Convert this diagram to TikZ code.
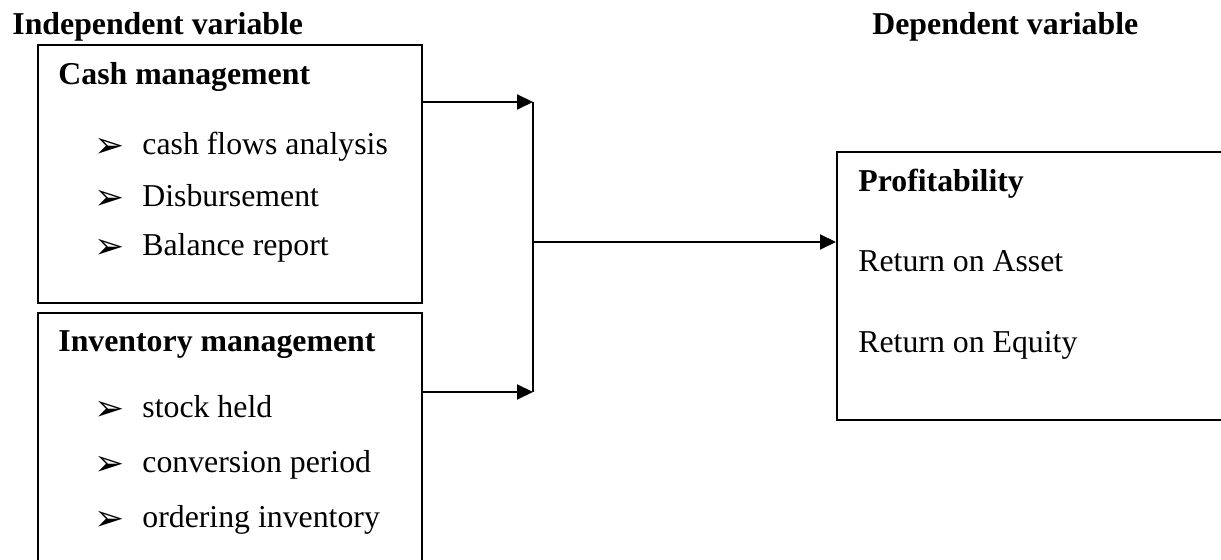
\documentclass[tikz,border=0pt]{standalone}
\usepackage{fontspec}
\setmainfont{Liberation Serif}
\newfontfamily\symfont{DejaVu Sans}
\usetikzlibrary{arrows.meta}
\begin{document}
\begin{tikzpicture}[x=0.5pt,y=-0.5pt,
  lbl/.style={anchor=base west,inner sep=0pt,font=\fontsize{15.9}{18}\selectfont},
  hd/.style={lbl,font=\fontsize{15.9}{18}\selectfont\bfseries},
  bul/.style={anchor=base west,inner sep=0pt,font=\symfont\fontsize{18}{18}\selectfont},
  boxline/.style={draw=black,line width=1pt,rectangle,inner sep=0pt,anchor=north west},
  conn/.style={draw=black,line width=1pt},
  arr/.style={conn,-{Triangle[length=8pt,width=7.5pt]}}]
\useasboundingbox (0,0) rectangle (1221,560);
\clip (0,0) rectangle (1221,560);
% boxes
\node[boxline,minimum width=192pt,minimum height=129pt] (cash) at (37,44) {};
\node[boxline,minimum width=192pt,minimum height=135pt] (inv) at (37,312) {};
\node[boxline,minimum width=200pt,minimum height=134pt] (prof) at (836,151) {};
% headings
\node[hd] (iv) at (12,35) {Independent variable};
\node[hd] (dv) at (872,35) {Dependent variable};
% cash box text
\node[hd] (cm) at (58,85) {Cash management};
\node[bul] (b1) at (94,158) {➢};
\node[lbl] (c1) at (142,155) {cash flows analysis};
\node[bul] (b2) at (94,210) {➢};
\node[lbl] (c2) at (142,207) {Disbursement};
\node[bul] (b3) at (94,259) {➢};
\node[lbl] (c3) at (142,256) {Balance report};
% inventory box text
\node[hd] (im) at (58,352) {Inventory management};
\node[bul] (b4) at (94,421) {➢};
\node[lbl] (i1) at (142,418) {stock held};
\node[bul] (b5) at (94,476) {➢};
\node[lbl] (i2) at (142,473) {conversion period};
\node[bul] (b6) at (94,531) {➢};
\node[lbl] (i3) at (142,528) {ordering inventory};
% profitability text
\node[hd] (pt) at (858,192) {Profitability};
\node[lbl] (p1) at (858,272) {Return on Asset};
\node[lbl] (p2) at (858,353) {Return on Equity};
% connectors
\coordinate (jt) at (533,102);
\coordinate (jb) at (533,392);
\coordinate (jm) at (533,242);
\draw[arr] (cash.east |- jt) -- (jt);
\draw[arr] (inv.east |- jb) -- (jb);
\draw[conn] (jt) -- (jb);
\draw[arr] (jm) -- (prof.west |- jm);
\end{tikzpicture}
\end{document}
